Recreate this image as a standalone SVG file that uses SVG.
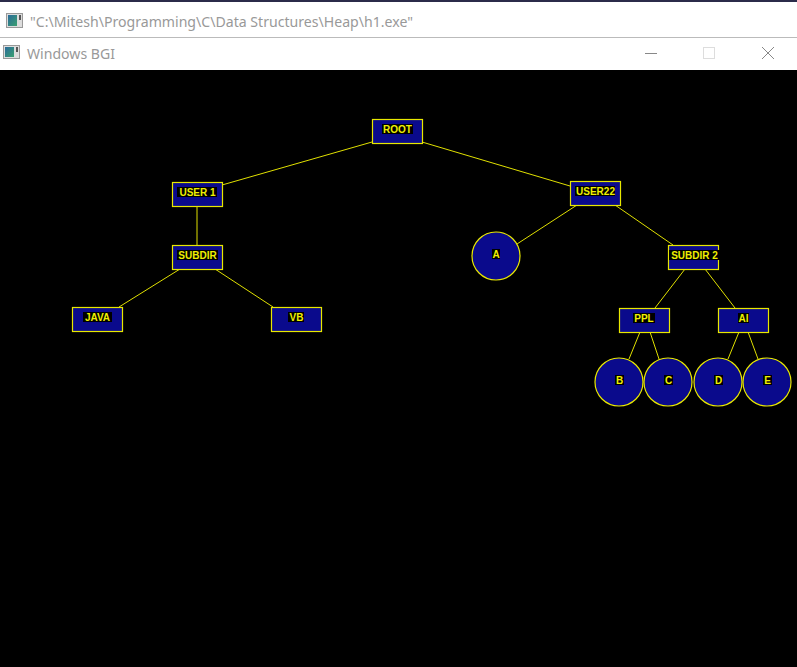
<svg xmlns="http://www.w3.org/2000/svg" width="797" height="667" viewBox="0 0 797 667">
<style>
.node rect.box{fill:#0a0a8c;stroke:#e8e800;stroke-width:1.2}
.node circle{fill:#0a0a8c;stroke:#e8e800;stroke-width:1.2}
.lbl{font-family:"Liberation Sans",Arial,sans-serif;font-size:10px;font-weight:bold;fill:#f0f000;text-anchor:middle}
.bg{fill:#000}
#connectors line{stroke:#e0e000;stroke-width:1}
.ttl{font-family:"Noto Sans","Open Sans",sans-serif;font-size:15px;fill:#999}
</style>
<defs>
<linearGradient id="ig" x1="0" y1="0" x2="1" y2="1">
<stop offset="0" stop-color="#2a6a9a"/><stop offset="1" stop-color="#3aa070"/>
</linearGradient>
</defs>
<rect width="797" height="667" fill="#000"/>
<g id="chrome">
<rect x="0" y="0" width="797" height="37" fill="#fff"/>
<rect x="0" y="0" width="797" height="2" fill="#2b2b4a"/>
<rect x="0" y="37" width="797" height="1" fill="#bbb"/>
<rect x="0" y="38" width="797" height="32" fill="#fff"/>
<rect x="6.5" y="13.5" width="16" height="14" fill="#ddd" stroke="#999"/>
<rect x="8" y="15" width="9" height="11" fill="url(#ig)"/>
<rect x="19" y="15" width="2" height="5" fill="#555"/>
<text class="ttl" x="30" y="27" textLength="383" lengthAdjust="spacingAndGlyphs">"C:\Mitesh\Programming\C\Data Structures\Heap\h1.exe"</text>
<rect x="3.5" y="45.5" width="16" height="13" fill="#ddd" stroke="#999"/>
<rect x="5" y="47" width="9" height="10" fill="url(#ig)"/>
<rect x="16" y="47" width="2" height="5" fill="#555"/>
<text class="ttl" x="27" y="59" textLength="88" lengthAdjust="spacingAndGlyphs">Windows BGI</text>
<line x1="645" y1="53.5" x2="657" y2="53.5" stroke="#888"/>
<rect x="703.5" y="47.5" width="11" height="11" fill="none" stroke="#ddd"/>
<line x1="762" y1="47" x2="774" y2="59" stroke="#888"/>
<line x1="774" y1="47" x2="762" y2="59" stroke="#888"/>
</g>
<g id="connectors">
<line x1="372" y1="142" x2="222" y2="185"/>
<line x1="422" y1="142" x2="570" y2="186"/>
<line x1="197" y1="206" x2="197" y2="245"/>
<line x1="180" y1="269" x2="119" y2="307"/>
<line x1="215" y1="269" x2="273" y2="307"/>
<line x1="577" y1="205" x2="517" y2="244"/>
<line x1="615" y1="205" x2="673" y2="245"/>
<line x1="685" y1="269" x2="655" y2="308"/>
<line x1="705" y1="269" x2="735" y2="308"/>
<line x1="640" y1="332" x2="629" y2="359"/>
<line x1="650" y1="332" x2="659" y2="359"/>
<line x1="739" y1="332" x2="728" y2="359"/>
<line x1="748" y1="332" x2="758" y2="359"/>
</g>
<g id="root" class="node"><rect class="box" x="372.5" y="119.5" width="50" height="24"/><rect class="bg" x="382" y="124" width="31" height="10"/><text class="lbl" x="397.5" y="133">ROOT</text></g>
<g id="user1" class="node"><rect class="box" x="172.5" y="182.5" width="50" height="24"/><rect class="bg" x="177" y="187" width="40" height="10"/><text class="lbl" x="197.5" y="196">USER 1</text></g>
<g id="subdir" class="node"><rect class="box" x="172.5" y="245.5" width="50" height="24"/><rect class="bg" x="177" y="250" width="41" height="10"/><text class="lbl" x="197.5" y="259">SUBDIR</text></g>
<g id="java" class="node"><rect class="box" x="72.5" y="307.5" width="50" height="24"/><rect class="bg" x="83" y="312" width="29" height="10"/><text class="lbl" x="97.5" y="321">JAVA</text></g>
<g id="vb" class="node"><rect class="box" x="271.5" y="307.5" width="50" height="24"/><rect class="bg" x="288" y="312" width="16" height="10"/><text class="lbl" x="296.5" y="321">VB</text></g>
<g id="user22" class="node"><rect class="box" x="570.5" y="181.5" width="50" height="24"/><rect class="bg" x="575" y="186" width="40" height="10"/><text class="lbl" x="595.5" y="195">USER22</text></g>
<g id="a" class="node"><circle cx="496" cy="256" r="24"/><rect class="bg" x="492" y="249" width="8" height="10"/><text class="lbl" x="496" y="258">A</text></g>
<g id="subdir2" class="node"><rect class="box" x="668.5" y="245.5" width="50" height="24"/><rect class="bg" x="669" y="250" width="51" height="10"/><text class="lbl" x="694.5" y="259">SUBDIR 2</text></g>
<g id="ppl" class="node"><rect class="box" x="619.5" y="308.5" width="50" height="24"/><rect class="bg" x="633" y="313" width="22" height="10"/><text class="lbl" x="644" y="322">PPL</text></g>
<g id="ai" class="node"><rect class="box" x="718.5" y="308.5" width="50" height="24"/><rect class="bg" x="738" y="313" width="11" height="10"/><text class="lbl" x="743.5" y="322">AI</text></g>
<g id="b" class="node"><circle cx="619" cy="382" r="24"/><rect class="bg" x="615" y="375" width="9" height="10"/><text class="lbl" x="619.5" y="384">B</text></g>
<g id="c" class="node"><circle cx="668" cy="382" r="24"/><rect class="bg" x="664" y="375" width="9" height="10"/><text class="lbl" x="668.5" y="384">C</text></g>
<g id="d" class="node"><circle cx="718" cy="382" r="24"/><rect class="bg" x="714" y="375" width="9" height="10"/><text class="lbl" x="718.5" y="384">D</text></g>
<g id="e" class="node"><circle cx="767" cy="382" r="24"/><rect class="bg" x="763" y="375" width="9" height="10"/><text class="lbl" x="767.5" y="384">E</text></g>
</svg>
